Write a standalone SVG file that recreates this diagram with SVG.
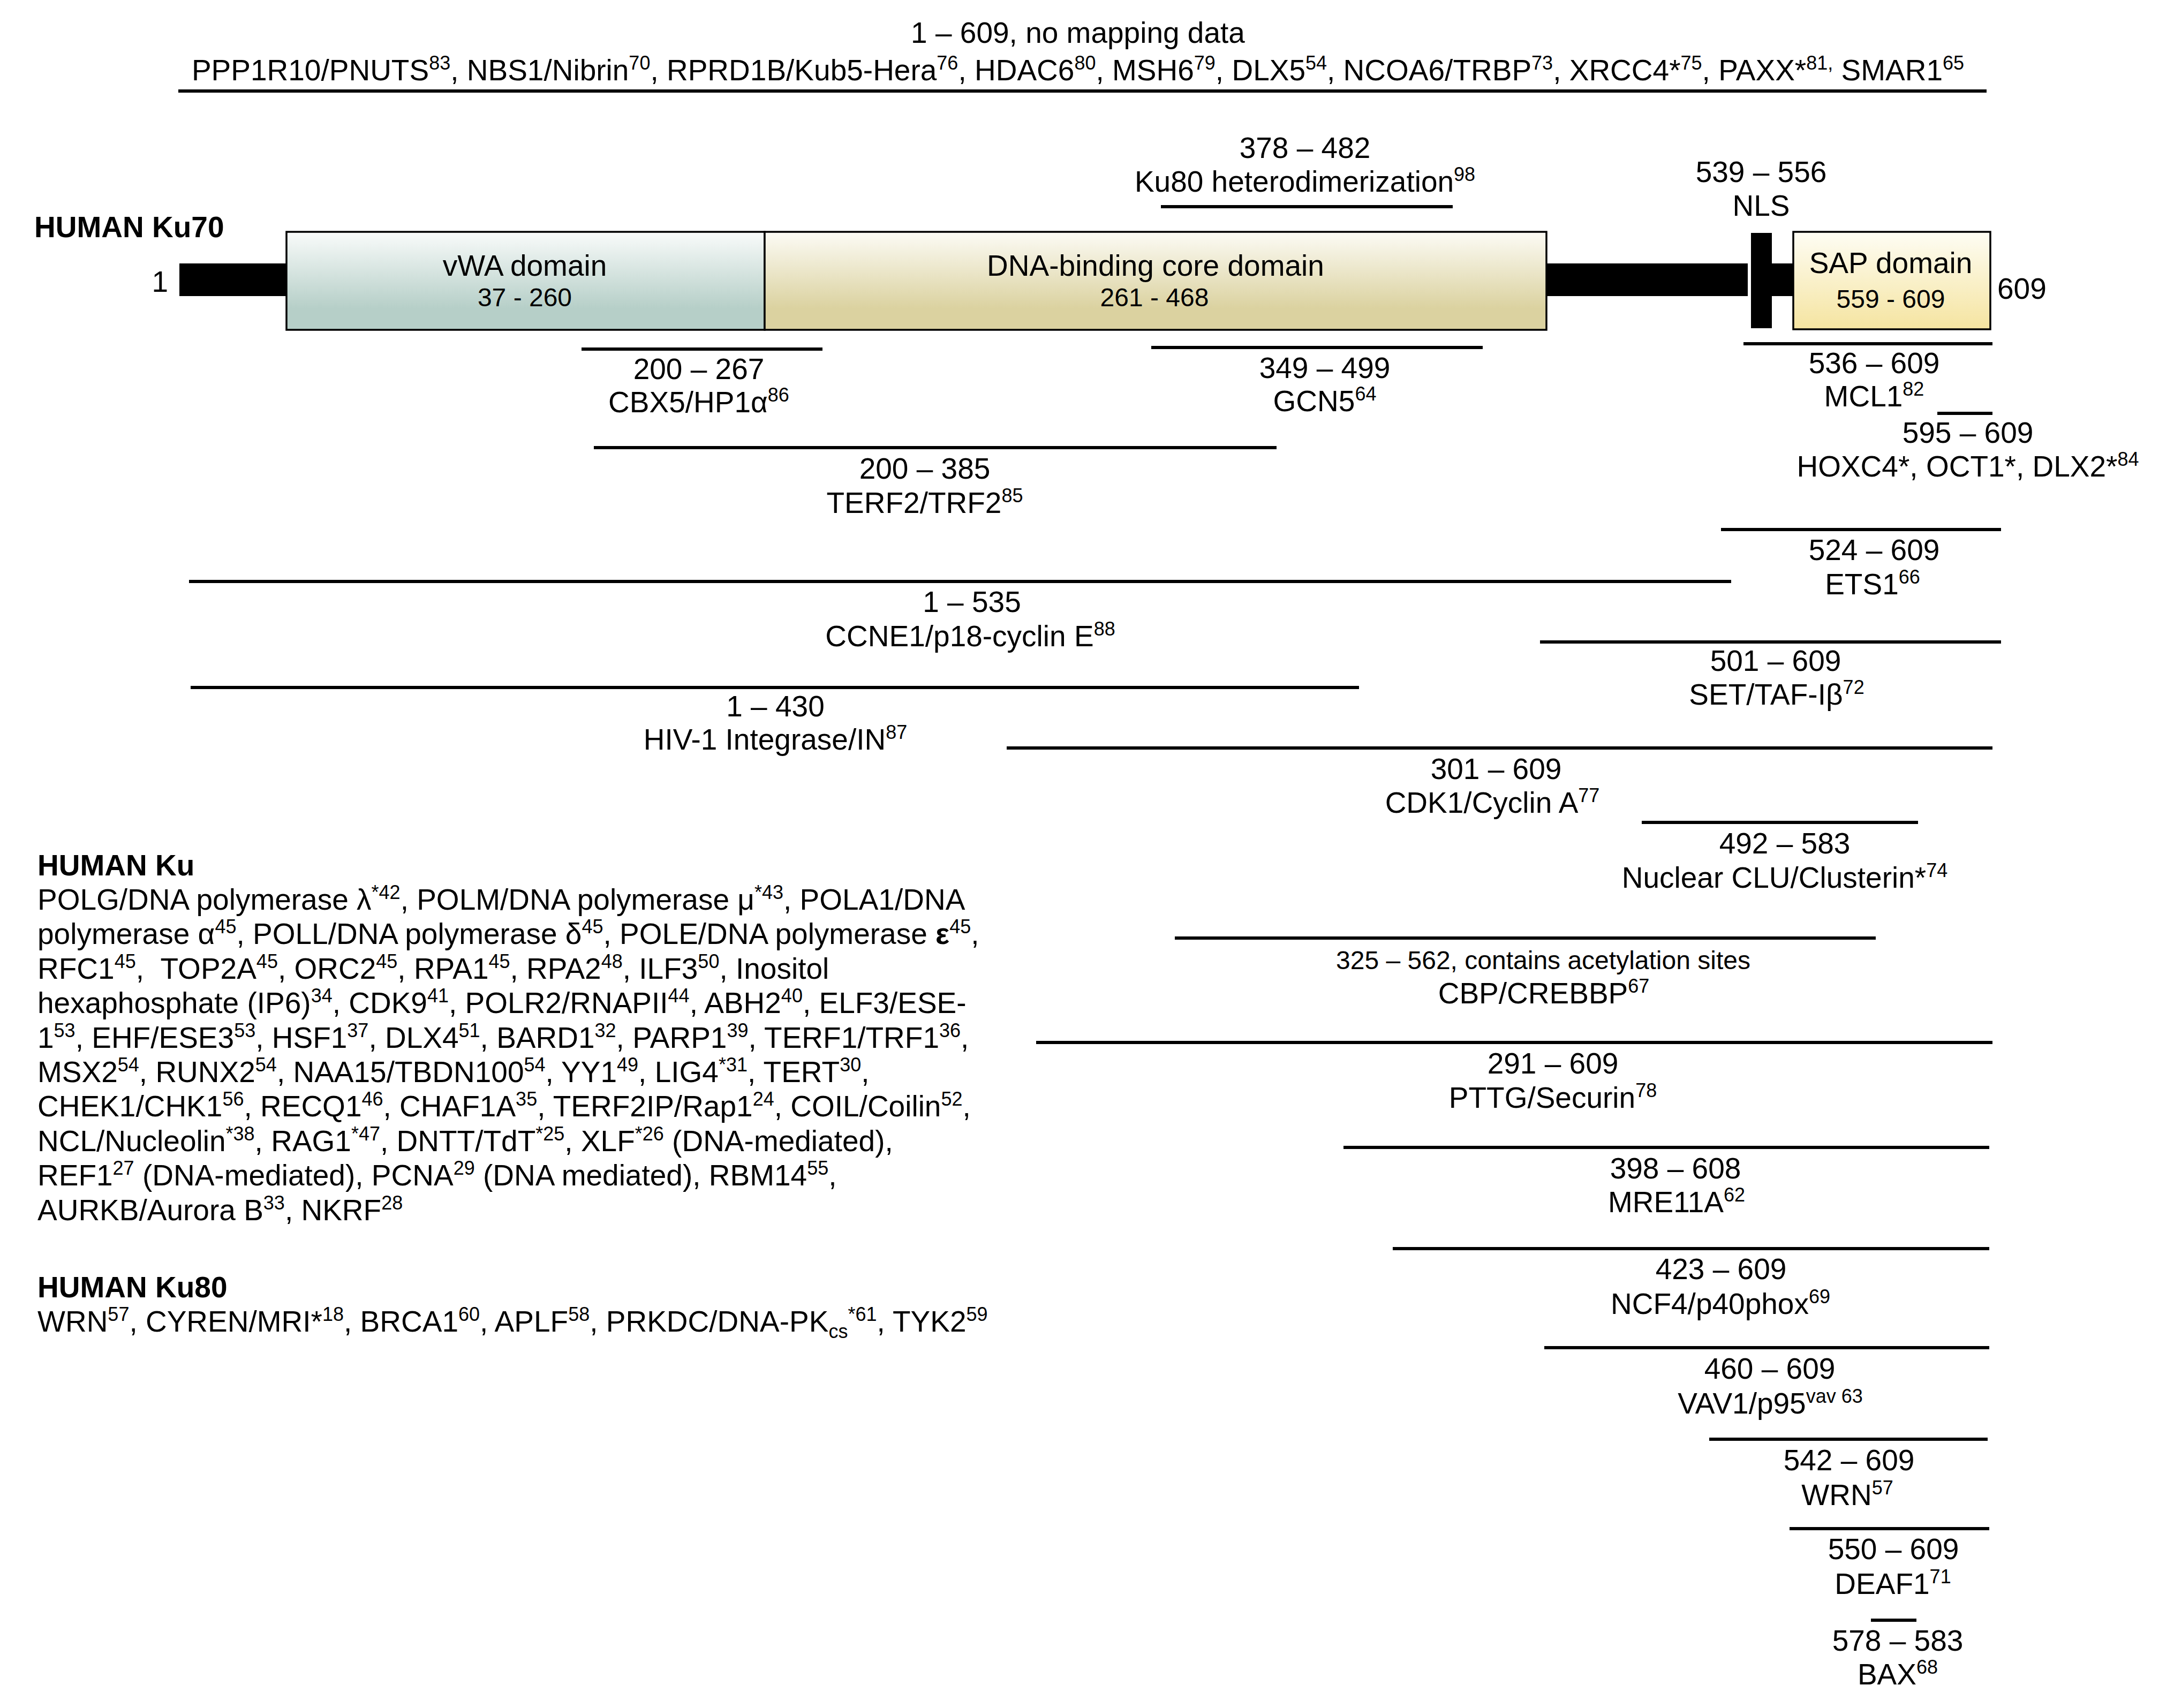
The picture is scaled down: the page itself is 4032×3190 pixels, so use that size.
<svg xmlns="http://www.w3.org/2000/svg" width="4032" height="3190" viewBox="0 0 4032 3190">
<style>
.t{font-family:"Liberation Sans",Arial,Helvetica,sans-serif;font-size:55px;fill:#000}
.c{text-anchor:middle}
.b{font-weight:bold}
.s{font-size:36px;baseline-shift:20px}
.sub{font-size:36px;baseline-shift:-12px}
.sm{font-size:48px}
.ln{stroke:#000;stroke-width:6;fill:none}
.bar{fill:#000}
.box{stroke:#000;stroke-width:3.5}
</style>
<defs>
<linearGradient id="gv" x1="0" y1="0" x2="0" y2="1">
<stop offset="0" stop-color="#f9fbfa"/><stop offset="0.78" stop-color="#b6cfc8"/><stop offset="1" stop-color="#b6cfc8"/>
</linearGradient>
<linearGradient id="gd" x1="0" y1="0" x2="0" y2="1">
<stop offset="0" stop-color="#fcfbf5"/><stop offset="0.78" stop-color="#dbd2a0"/><stop offset="1" stop-color="#dbd2a0"/>
</linearGradient>
<linearGradient id="gs" x1="0" y1="0" x2="0" y2="1">
<stop offset="0" stop-color="#fefdf4"/><stop offset="1" stop-color="#f5e4a0"/>
</linearGradient>
</defs>
<rect width="4032" height="3190" fill="#fff"/>

<g id="no-mapping">
<text class="t c" x="2013" y="80">1 – 609, no mapping data</text>
<text class="t c" x="2013" y="150">PPP1R10/PNUTS<tspan class="s">83</tspan>, NBS1/Nibrin<tspan class="s">70</tspan>, RPRD1B/Kub5-Hera<tspan class="s">76</tspan>, HDAC6<tspan class="s">80</tspan>, MSH6<tspan class="s">79</tspan>, DLX5<tspan class="s">54</tspan>, NCOA6/TRBP<tspan class="s">73</tspan>, XRCC4*<tspan class="s">75</tspan>, PAXX*<tspan class="s">81,</tspan> SMAR1<tspan class="s">65</tspan></text>
<line class="ln" x1="333" y1="170" x2="3710" y2="170"/>
</g>

<g id="ku70-protein">
<text class="t b" x="64" y="443">HUMAN Ku70</text>
<text class="t" x="314" y="545" text-anchor="end">1</text>
<rect class="bar" x="335" y="492" width="202" height="61"/>
<rect class="bar" x="2886" y="492" width="378" height="61"/>
<rect class="bar" x="3307" y="492" width="43" height="61"/>
<g id="vwa-domain">
<rect class="box" x="535" y="433" width="893" height="183" fill="url(#gv)"/>
<text class="t c" x="980" y="515">vWA domain</text>
<text class="t c sm" x="980" y="572">37 - 260</text>
</g>
<g id="dna-binding-domain">
<rect class="box" x="1428" y="433" width="1460" height="183" fill="url(#gd)"/>
<text class="t c" x="2158" y="515">DNA-binding core domain</text>
<text class="t c sm" x="2156" y="572">261 - 468</text>
</g>
<g id="nls">
<rect class="bar" x="3270" y="435" width="39" height="178"/>
<text class="t c" x="3289" y="340">539 – 556</text>
<text class="t c" x="3289" y="403">NLS</text>
</g>
<g id="sap-domain">
<rect class="box" x="3349" y="433" width="368" height="182" fill="url(#gs)"/>
<text class="t c" x="3531" y="510">SAP domain</text>
<text class="t c sm" x="3531" y="575">559 - 609</text>
</g>
<text class="t" x="3730" y="558">609</text>
<g id="ku80-heterodimerization">
<text class="t c" x="2437" y="295">378 – 482</text>
<text class="t c" x="2437" y="358">Ku80 heterodimerization<tspan class="s">98</tspan></text>
<line class="ln" x1="2168" y1="386" x2="2713" y2="386"/>
</g>
</g>

<g id="interactors">
<g id="cbx5"><line class="ln" x1="1086" y1="652" x2="1536" y2="652"/>
<text class="t c" x="1305" y="708">200 – 267</text><text class="t c" x="1305" y="770">CBX5/HP1α<tspan class="s">86</tspan></text></g>
<g id="gcn5"><line class="ln" x1="2150" y1="649" x2="2769" y2="649"/>
<text class="t c" x="2474" y="706">349 – 499</text><text class="t c" x="2474" y="768">GCN5<tspan class="s">64</tspan></text></g>
<g id="mcl1"><line class="ln" x1="3256" y1="642" x2="3721" y2="642"/>
<text class="t c" x="3500" y="697">536 – 609</text><text class="t c" x="3500" y="759">MCL1<tspan class="s">82</tspan></text></g>
<g id="terf2"><line class="ln" x1="1109" y1="836" x2="2384" y2="836"/>
<text class="t c" x="1727" y="894">200 – 385</text><text class="t c" x="1727" y="958">TERF2/TRF2<tspan class="s">85</tspan></text></g>
<g id="hoxc4"><line class="ln" x1="3618" y1="772" x2="3721" y2="772"/>
<text class="t c" x="3675" y="827">595 – 609</text><text class="t c" x="3675" y="890">HOXC4*, OCT1*, DLX2*<tspan class="s">84</tspan></text></g>
<g id="ets1"><line class="ln" x1="3214" y1="989" x2="3737" y2="989"/>
<text class="t c" x="3500" y="1046">524 – 609</text><text class="t c" x="3497" y="1110">ETS1<tspan class="s">66</tspan></text></g>
<g id="ccne1"><line class="ln" x1="353" y1="1086" x2="3233" y2="1086"/>
<text class="t c" x="1815" y="1143">1 – 535</text><text class="t c" x="1812" y="1207">CCNE1/p18-cyclin E<tspan class="s">88</tspan></text></g>
<g id="set"><line class="ln" x1="2876" y1="1199" x2="3737" y2="1199"/>
<text class="t c" x="3316" y="1253">501 – 609</text><text class="t c" x="3318" y="1316">SET/TAF-Iβ<tspan class="s">72</tspan></text></g>
<g id="hiv1-integrase"><line class="ln" x1="356" y1="1284" x2="2538" y2="1284"/>
<text class="t c" x="1448" y="1338">1 – 430</text><text class="t c" x="1448" y="1400">HIV-1 Integrase/IN<tspan class="s">87</tspan></text></g>
<g id="cdk1"><line class="ln" x1="1880" y1="1397" x2="3721" y2="1397"/>
<text class="t c" x="2794" y="1455">301 – 609</text><text class="t c" x="2787" y="1518">CDK1/Cyclin A<tspan class="s">77</tspan></text></g>
<g id="clu"><line class="ln" x1="3066" y1="1536" x2="3582" y2="1536"/>
<text class="t c" x="3333" y="1594">492 – 583</text><text class="t c" x="3333" y="1658">Nuclear CLU/Clusterin*<tspan class="s">74</tspan></text></g>
<g id="cbp"><line class="ln" x1="2194" y1="1752" x2="3503" y2="1752"/>
<text class="t c sm" x="2882" y="1810">325 – 562, contains acetylation sites</text><text class="t c" x="2883" y="1874">CBP/CREBBP<tspan class="s">67</tspan></text></g>
<g id="pttg"><line class="ln" x1="1935" y1="1947" x2="3721" y2="1947"/>
<text class="t c" x="2900" y="2005">291 – 609</text><text class="t c" x="2900" y="2069">PTTG/Securin<tspan class="s">78</tspan></text></g>
<g id="mre11a"><line class="ln" x1="2509" y1="2143" x2="3715" y2="2143"/>
<text class="t c" x="3129" y="2201">398 – 608</text><text class="t c" x="3131" y="2264">MRE11A<tspan class="s">62</tspan></text></g>
<g id="ncf4"><line class="ln" x1="2601" y1="2332" x2="3715" y2="2332"/>
<text class="t c" x="3214" y="2389">423 – 609</text><text class="t c" x="3213" y="2454">NCF4/p40phox<tspan class="s">69</tspan></text></g>
<g id="vav1"><line class="ln" x1="2884" y1="2517" x2="3715" y2="2517"/>
<text class="t c" x="3305" y="2575">460 – 609</text><text class="t c" x="3306" y="2640">VAV1/p95<tspan class="s">vav 63</tspan></text></g>
<g id="wrn"><line class="ln" x1="3192" y1="2688" x2="3712" y2="2688"/>
<text class="t c" x="3453" y="2746">542 – 609</text><text class="t c" x="3450" y="2811">WRN<tspan class="s">57</tspan></text></g>
<g id="deaf1"><line class="ln" x1="3342" y1="2855" x2="3715" y2="2855"/>
<text class="t c" x="3536" y="2912">550 – 609</text><text class="t c" x="3535" y="2977">DEAF1<tspan class="s">71</tspan></text></g>
<g id="bax"><line class="ln" x1="3494" y1="3026" x2="3579" y2="3026"/>
<text class="t c" x="3544" y="3083">578 – 583</text><text class="t c" x="3544" y="3146">BAX<tspan class="s">68</tspan></text></g>
</g>

<g id="human-ku">
<text class="t b" x="70" y="1635">HUMAN Ku</text>
<text class="t" x="70" y="1699">POLG/DNA polymerase λ<tspan class="s">*42</tspan>, POLM/DNA polymerase μ<tspan class="s">*43</tspan>, POLA1/DNA</text>
<text class="t" x="70" y="1763">polymerase α<tspan class="s">45</tspan>, POLL/DNA polymerase δ<tspan class="s">45</tspan>, POLE/DNA polymerase <tspan class="b">ε</tspan><tspan class="s">45</tspan>,</text>
<text class="t" x="70" y="1828">RFC1<tspan class="s">45</tspan>, &#160;TOP2A<tspan class="s">45</tspan>, ORC2<tspan class="s">45</tspan>, RPA1<tspan class="s">45</tspan>, RPA2<tspan class="s">48</tspan>, ILF3<tspan class="s">50</tspan>, Inositol</text>
<text class="t" x="70" y="1892">hexaphosphate (IP6)<tspan class="s">34</tspan>, CDK9<tspan class="s">41</tspan>, POLR2/RNAPII<tspan class="s">44</tspan>, ABH2<tspan class="s">40</tspan>, ELF3/ESE-</text>
<text class="t" x="70" y="1957">1<tspan class="s">53</tspan>, EHF/ESE3<tspan class="s">53</tspan>, HSF1<tspan class="s">37</tspan>, DLX4<tspan class="s">51</tspan>, BARD1<tspan class="s">32</tspan>, PARP1<tspan class="s">39</tspan>, TERF1/TRF1<tspan class="s">36</tspan>,</text>
<text class="t" x="70" y="2021">MSX2<tspan class="s">54</tspan>, RUNX2<tspan class="s">54</tspan>, NAA15/TBDN100<tspan class="s">54</tspan>, YY1<tspan class="s">49</tspan>, LIG4<tspan class="s">*31</tspan>, TERT<tspan class="s">30</tspan>,</text>
<text class="t" x="70" y="2085">CHEK1/CHK1<tspan class="s">56</tspan>, RECQ1<tspan class="s">46</tspan>, CHAF1A<tspan class="s">35</tspan>, TERF2IP/Rap1<tspan class="s">24</tspan>, COIL/Coilin<tspan class="s">52</tspan>,</text>
<text class="t" x="70" y="2150">NCL/Nucleolin<tspan class="s">*38</tspan>, RAG1<tspan class="s">*47</tspan>, DNTT/TdT<tspan class="s">*25</tspan>, XLF<tspan class="s">*26</tspan> (DNA-mediated),</text>
<text class="t" x="70" y="2214">REF1<tspan class="s">27</tspan> (DNA-mediated), PCNA<tspan class="s">29</tspan> (DNA mediated), RBM14<tspan class="s">55</tspan>,</text>
<text class="t" x="70" y="2279">AURKB/Aurora B<tspan class="s">33</tspan>, NKRF<tspan class="s">28</tspan></text>
</g>

<g id="human-ku80">
<text class="t b" x="70" y="2423">HUMAN Ku80</text>
<text class="t" x="70" y="2487">WRN<tspan class="s">57</tspan>, CYREN/MRI*<tspan class="s">18</tspan>, BRCA1<tspan class="s">60</tspan>, APLF<tspan class="s">58</tspan>, PRKDC/DNA-PK<tspan class="sub">cs</tspan><tspan class="s">*61</tspan>, TYK2<tspan class="s">59</tspan></text>
</g>
</svg>
